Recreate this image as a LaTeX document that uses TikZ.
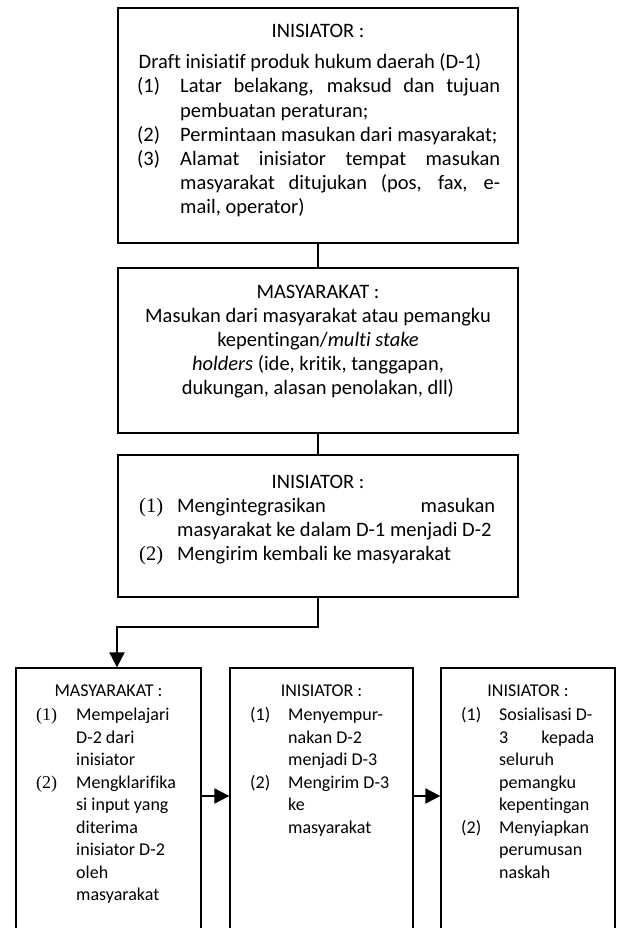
\documentclass[tikz,border=0pt]{standalone}
\usepackage{fontspec}
\setmainfont{Carlito}[Ligatures={NoCommon,NoContextual}]
\newfontfamily\tnr{Liberation Serif}
\usetikzlibrary{arrows.meta}
\newcommand\lab[2]{\makebox[#1][l]{#2}}
\newcommand\jus[2]{\makebox[#1][s]{#2}}
\begin{document}
\begin{tikzpicture}[x=1pt,y=-1pt,
  box/.style={draw, line width=1.3pt, rectangle, inner sep=0pt},
  conn/.style={line width=1.8pt},
  arr/.style={line width=2pt, -{Triangle[length=15pt,width=15pt]}},
  big/.style={font=\fontsize{20.5}{24.2}\selectfont},
  small/.style={font=\fontsize{18}{22.5}\selectfont},
  txt/.style={inner sep=0pt, anchor=base west},
  ctr/.style={inner sep=0pt, anchor=base}]
\useasboundingbox (0,0) rectangle (616,928);
\fill[white] (0,0) rectangle (616,928);
\clip (0,0) rectangle (616,928);

% boxes
\node[box, minimum width=400pt, minimum height=235pt] (b1) at (318,125.5) {};
\node[box, minimum width=400pt, minimum height=165pt] (b2) at (318,350.5) {};
\node[box, minimum width=400pt, minimum height=142pt] (b3) at (318,526) {};
\node[box, minimum width=185pt, minimum height=300pt] (bA) at (108.5,818) {};
\node[box, minimum width=183pt, minimum height=300pt] (bB) at (321.5,818) {};
\node[box, minimum width=174pt, minimum height=300pt] (bC) at (528,818) {};

% box 1 text
\node[ctr,big] (t1h) at (318,38) {INISIATOR :};
\node[ctr,big] (t1d) at (310,69) {Draft inisiatif produk hukum daerah (D-1)};
\node[txt,big] (t1b) at (137,93) {\parbox[t]{400pt}{%
\lab{43pt}{(1)}\jus{320pt}{Latar belakang, maksud dan tujuan}\\
\hspace*{43pt}pembuatan peraturan;\\
\lab{43pt}{(2)}Permintaan masukan dari masyarakat;\\
\lab{43pt}{(3)}\jus{320pt}{Alamat inisiator tempat masukan}\\
\hspace*{43pt}\jus{320pt}{masyarakat ditujukan (pos, fax, e-}\\
\hspace*{43pt}mail, operator)}};

% box 2 text
\node[ctr,big] (t2) at (318,298) {\parbox[t]{390pt}{\centering
MASYARAKAT :\\
Masukan dari masyarakat atau pemangku\\
kepentingan/\textit{multi stake}\\
\textit{holders} (ide, kritik, tanggapan,\\
dukungan, alasan penolakan, dll)}};

% box 3 text
\node[ctr,big] (t3h) at (318,488) {INISIATOR :};
\node[txt,big] (t3b) at (139,512) {\parbox[t]{400pt}{%
\lab{38pt}{\tnr(1)}\jus{318pt}{Mengintegrasikan masukan}\\
\hspace*{38pt}masyarakat ke dalam D-1 menjadi D-2\\
\lab{38pt}{\tnr(2)}Mengirim kembali ke masyarakat}};

% box A text
\node[ctr,small] (tAh) at (108.5,696) {MASYARAKAT :};
\node[txt,small] (tAb) at (36,720.5) {\parbox[t]{180pt}{%
\lab{40pt}{\tnr(1)}Mempelajari\\
\hspace*{40pt}D-2 dari\\
\hspace*{40pt}inisiator\\
\lab{40pt}{\tnr(2)}Mengklarifika\\
\hspace*{40pt}si input yang\\
\hspace*{40pt}diterima\\
\hspace*{40pt}inisiator D-2\\
\hspace*{40pt}oleh\\
\hspace*{40pt}masyarakat}};

% box B text
\node[ctr,small] (tBh) at (321.5,696) {INISIATOR :};
\node[txt,small] (tBb) at (250,720.5) {\parbox[t]{180pt}{%
\lab{38pt}{(1)}Menyempur-\\
\hspace*{38pt}nakan D-2\\
\hspace*{38pt}menjadi D-3\\
\lab{38pt}{(2)}Mengirim D-3\\
\hspace*{38pt}ke\\
\hspace*{38pt}masyarakat}};

% box C text
\node[ctr,small] (tCh) at (528,696) {INISIATOR :};
\node[txt,small] (tCb) at (461,720.5) {\parbox[t]{180pt}{%
\lab{38pt}{(1)}Sosialisasi D-\\
\hspace*{38pt}\jus{95pt}{3 kepada}\\
\hspace*{38pt}seluruh\\
\hspace*{38pt}pemangku\\
\hspace*{38pt}kepentingan\\
\lab{38pt}{(2)}Menyiapkan\\
\hspace*{38pt}perumusan\\
\hspace*{38pt}naskah}};

% connectors
\draw[conn] (b1.south) -- (b2.north);
\draw[conn] (b2.south) -- (b3.north);
\coordinate (k) at (117,627);
\draw[arr] (b3.south) |- (k) -- (k |- bA.north);
\coordinate (ry) at (0,796);
\draw[arr] (bA.east |- ry) -- (bB.west |- ry);
\draw[arr] (bB.east |- ry) -- (bC.west |- ry);
\end{tikzpicture}
\end{document}
